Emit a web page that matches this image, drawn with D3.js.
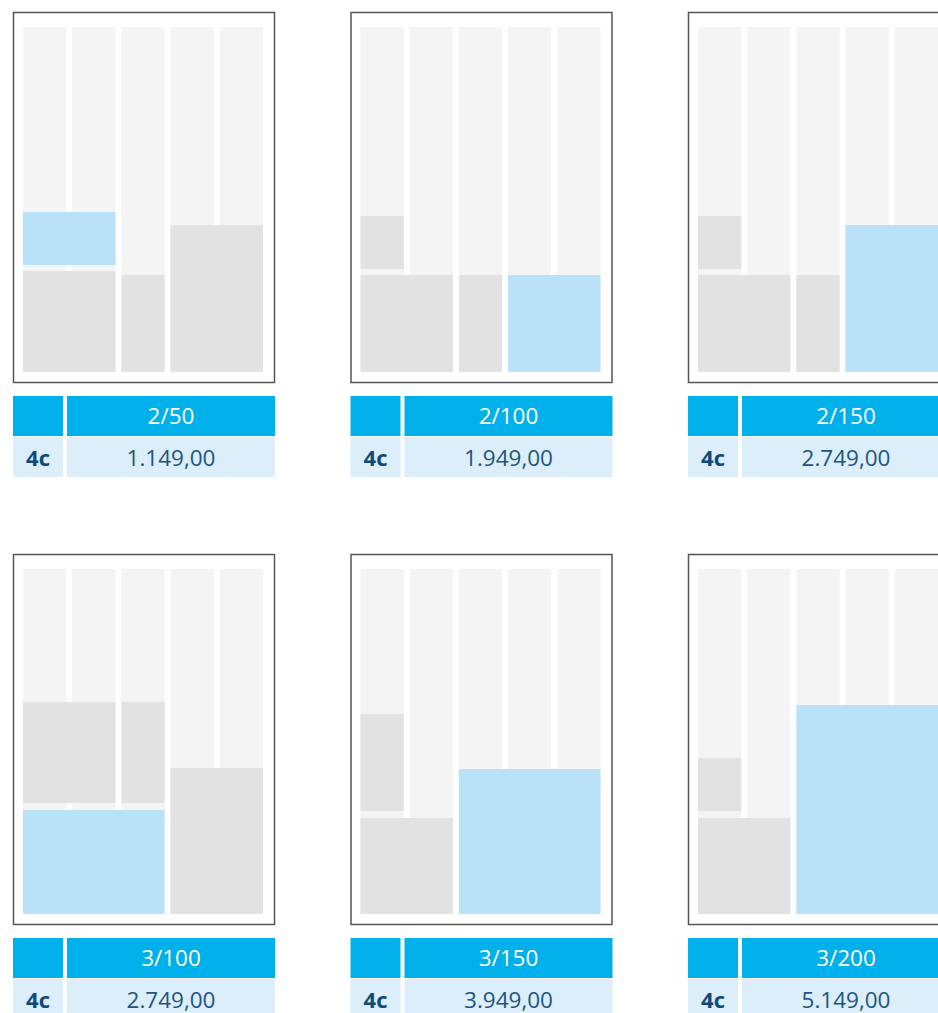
<!DOCTYPE html>
<html lang="de">
<head>
<meta charset="UTF-8">
<title>Anzeigenformate</title>
<style>
  html, body { margin: 0; padding: 0; background: #fff; overflow: hidden; }
  svg { display: block; font-family: "Open Sans", "Noto Sans", sans-serif; }
</style>
</head>
<body>
<svg id="chart" width="938" height="1013"></svg>
<script src="https://cdn.jsdelivr.net/npm/d3@7"></script>
<script>
// formats: columns / height in mm
const formats = ['2/50', '2/100', '2/150', '3/100', '3/150', '3/200'];
const prices = ['1.149,00', '1.949,00', '2.749,00', '2.749,00', '3.949,00', '5.149,00'];
const colorLabel = '4c';

// page blocks per format: [first column, column span, bottom (mm), height (mm), highlighted]
const blocks = [
  [[0, 2, 107, 53, 1], [0, 2, 0, 101, 0], [2, 1, 0, 97, 0], [3, 2, 0, 147, 0]],
  [[0, 1, 103, 53, 0], [0, 2, 0, 97, 0], [2, 1, 0, 97, 0], [3, 2, 0, 97, 1]],
  [[0, 1, 103, 53, 0], [0, 2, 0, 97, 0], [2, 1, 0, 97, 0], [3, 2, 0, 147, 1]],
  [[0, 2, 111, 101, 0], [2, 1, 111, 101, 0], [0, 3, 0, 104, 1], [3, 2, 0, 146, 0]],
  [[0, 1, 103, 97, 0], [0, 2, 0, 96, 0], [2, 3, 0, 145, 1]],
  [[0, 1, 103, 53, 0], [0, 2, 0, 96, 0], [2, 3, 0, 209, 1]]
];
const columns = [0, 1, 2, 3, 4];
const pageHeight = 345;

const svg = d3.select('#chart');

const frameW = 262, frameH = 370;
const colTop = 15, colBottom = 360;

// column layout inside a page frame
const x = d3.scaleBand().domain(columns).range([10, 250]).paddingInner(0.12);
const y = d3.scaleLinear().domain([0, pageHeight]).range([colBottom, colTop]);

const panels = svg.selectAll('g.panel')
  .data(formats)
  .join('g')
  .attr('class', 'panel')
  .attr('transform', (d, i) => `translate(${13 + (i % 3) * 337.5},${12 + Math.floor(i / 3) * 542})`);

// frame
panels.append('rect')
  .attr('x', 0.5).attr('y', 0.5)
  .attr('width', frameW - 1).attr('height', frameH)
  .attr('fill', '#fff')
  .attr('stroke', '#555')
  .attr('stroke-width', 1.5);

// empty columns
panels.selectAll('rect.col')
  .data(columns)
  .join('rect')
  .attr('class', 'col')
  .attr('x', d => x(d))
  .attr('y', y(pageHeight))
  .attr('width', x.bandwidth())
  .attr('height', y(0) - y(pageHeight))
  .attr('fill', '#f4f4f4');

// ad blocks
panels.selectAll('rect.block')
  .data((d, i) => blocks[i])
  .join('rect')
  .attr('class', 'block')
  .attr('x', d => x(d[0]))
  .attr('y', d => y(d[2] + d[3]))
  .attr('width', d => x(d[0] + d[1] - 1) + x.bandwidth() - x(d[0]))
  .attr('height', d => y(d[2]) - y(d[2] + d[3]))
  .attr('fill', d => d[4] ? '#b9e1f8' : '#e2e2e2');

// price table
const tableTop = 384;
panels.append('rect')
  .attr('x', 0).attr('y', tableTop).attr('width', 50).attr('height', 40)
  .attr('fill', '#00b0ea');
panels.append('rect')
  .attr('x', 54).attr('y', tableTop).attr('width', 208).attr('height', 40)
  .attr('fill', '#00b0ea');
panels.append('rect')
  .attr('x', 0).attr('y', tableTop + 41).attr('width', 50).attr('height', 40)
  .attr('fill', '#dceefa');
panels.append('rect')
  .attr('x', 54).attr('y', tableTop + 41).attr('width', 208).attr('height', 40)
  .attr('fill', '#dceefa');

panels.append('text')
  .attr('x', 158).attr('y', tableTop + 20)
  .attr('dy', '0.36em')
  .attr('text-anchor', 'middle')
  .attr('font-size', 22.5)
  .attr('fill', '#fff')
  .text(d => d);

panels.append('text')
  .attr('x', 25).attr('y', tableTop + 62)
  .attr('dy', '0.36em')
  .attr('text-anchor', 'middle')
  .attr('font-size', 22)
  .attr('font-weight', 700)
  .attr('fill', '#0f4a78')
  .text(colorLabel);

panels.append('text')
  .attr('x', 158).attr('y', tableTop + 62)
  .attr('dy', '0.36em')
  .attr('text-anchor', 'middle')
  .attr('font-size', 22.5)
  .attr('fill', '#1c5582')
  .text((d, i) => prices[i]);
</script>
</body>
</html>
